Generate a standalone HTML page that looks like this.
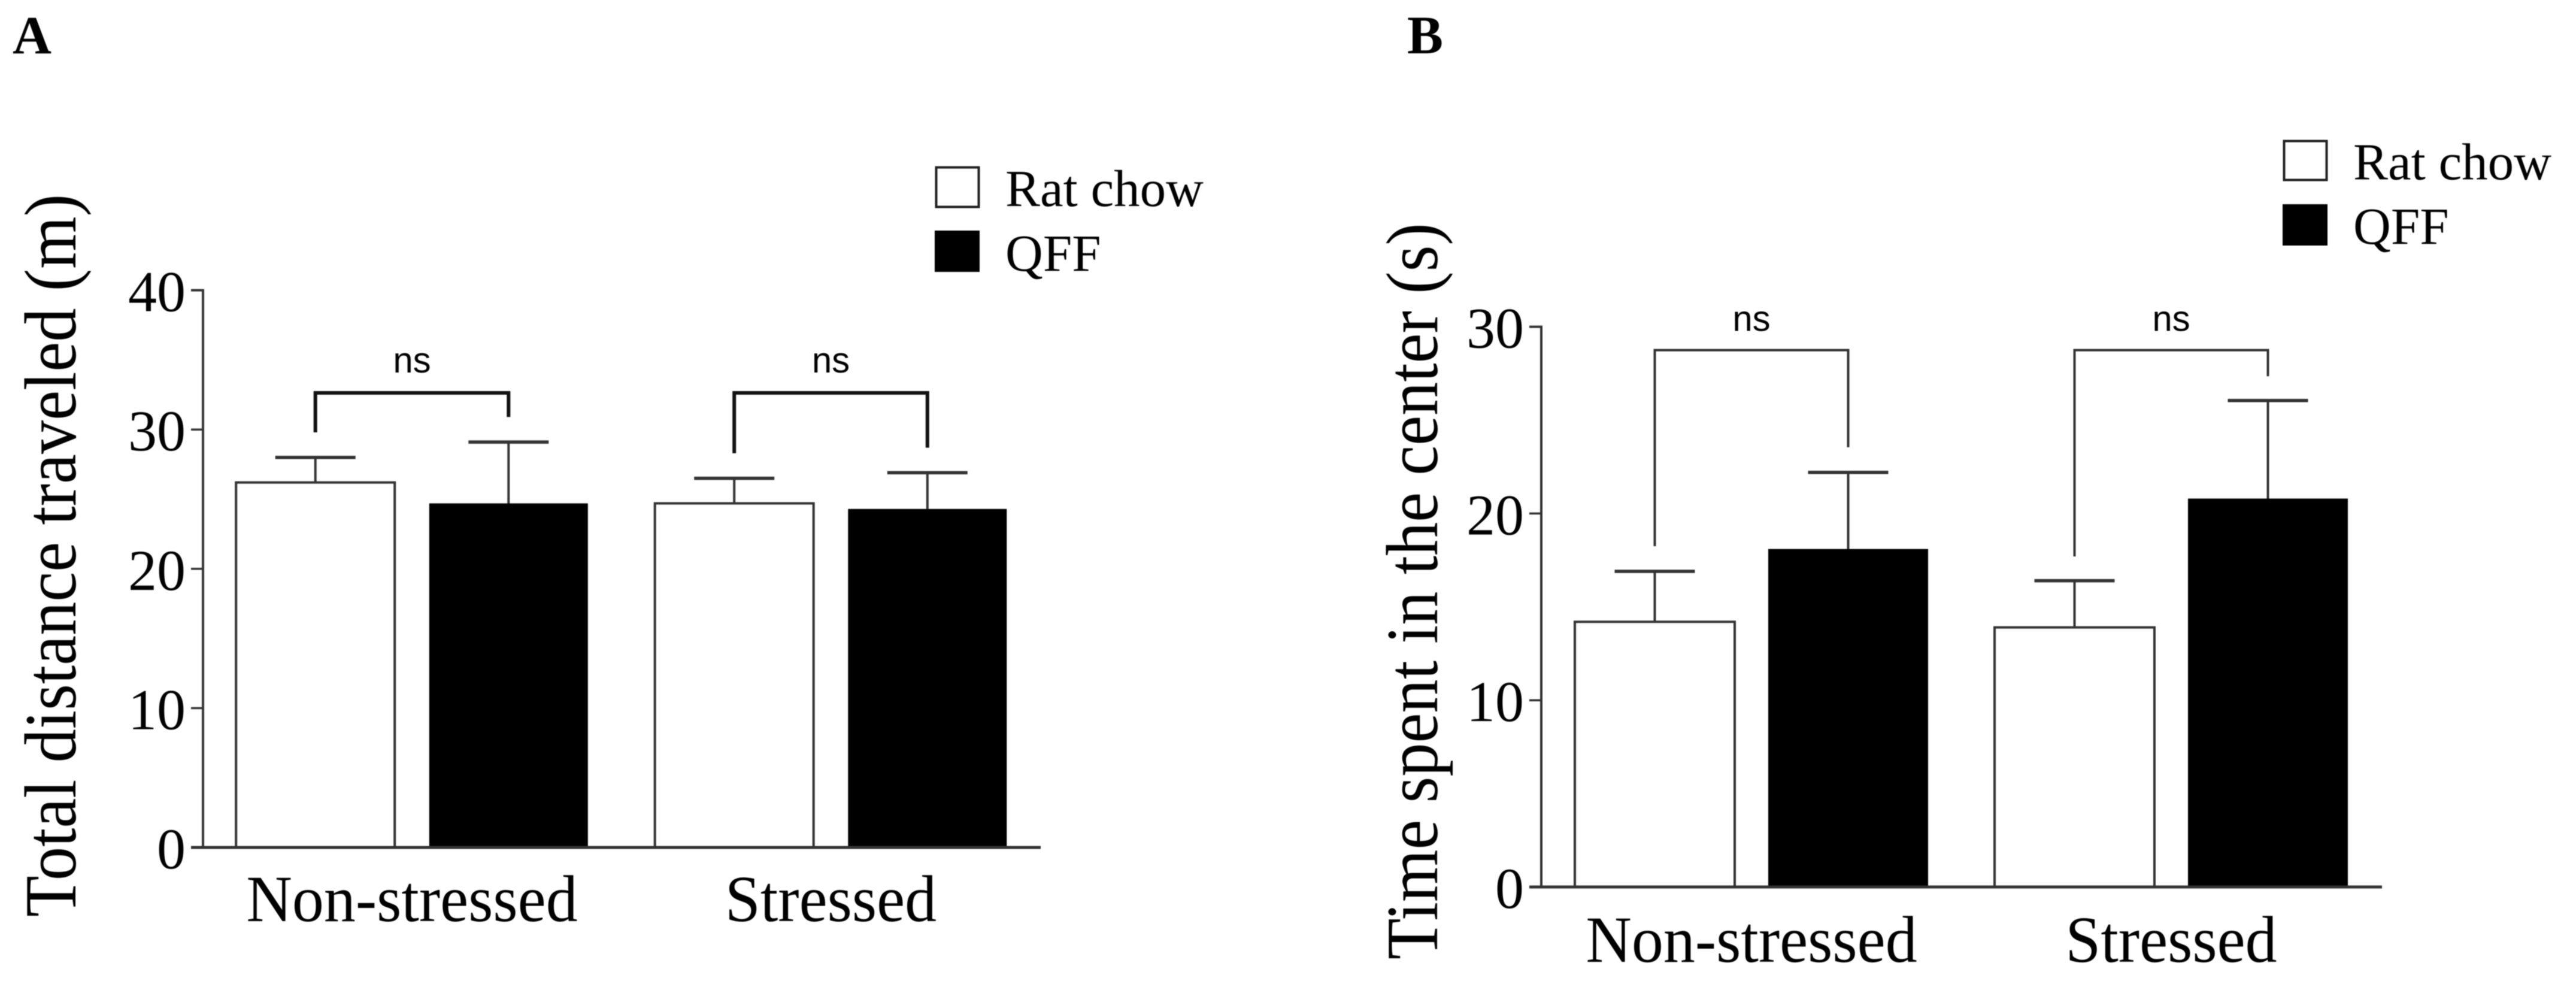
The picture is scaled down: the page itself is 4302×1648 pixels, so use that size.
<!DOCTYPE html>
<html>
<head>
<meta charset="utf-8">
<title>Locomotor activity bar charts</title>
<style>
html,body{margin:0;padding:0;background:#fff;}
svg{display:block;filter:blur(0.7px);}
text{font-family:"Liberation Serif",serif;fill:#000;}
.ns{font-family:"Liberation Sans",sans-serif;font-size:60px;text-anchor:middle;}
.panel{font-size:90px;font-weight:bold;}
.legend{font-size:87px;}
.ytitle{font-size:112.5px;}
</style>
</head>
<body>
<svg id="fig" xmlns="http://www.w3.org/2000/svg" width="4302" height="1648" viewBox="0 0 4302 1648">
  <rect x="0" y="0" width="4302" height="1648" fill="#fff"/>
  <text class="panel" x="21" y="89">A</text>
  <text class="panel" x="2350" y="89">B</text>

  <text class="ytitle" transform="translate(126 1531) rotate(-90) scale(1 1.09)">Total distance traveled (m)</text>
  <text class="ytitle" transform="translate(2400 1602) rotate(-90) scale(1 1.09)">Time spent in the center (s)</text>

  <g>
    <rect x="1563.5" y="279.5" width="71" height="66" fill="#fff" stroke="#222" stroke-width="4"/>
    <text class="legend" x="1679" y="344">Rat chow</text>
    <rect x="1561" y="385" width="75" height="69" fill="#000"/>
    <text class="legend" x="1679" y="452">QFF</text>
  </g>
  <g>
    <rect x="3814.5" y="235.5" width="71" height="65" fill="#fff" stroke="#222" stroke-width="4"/>
    <text class="legend" x="3930" y="299.5">Rat chow</text>
    <rect x="3812" y="341" width="75" height="69" fill="#000"/>
    <text class="legend" x="3930" y="407">QFF</text>
  </g>
  <g id="chart-a"></g>
  <g id="chart-b"></g>
</svg>
<script>
// Shared categories
const categories = ["Non-stressed", "Stressed"];
const seriesNames = ["rat-chow", "qff"];

// Panel A: total distance traveled (m)
const tickLabelsA = [0, 10, 20, 30, 40];
const ratChowMeanA = [26.2, 24.7];
const qffMeanA = [24.7, 24.3];
const ratChowUpperA = [28.0, 26.5];
const qffUpperA = [29.1, 26.9];
const bracketTopA = [32.63, 32.63];
const bracketLeftEndA = [29.8, 28.3];
const bracketRightEndA = [30.9, 28.7];

// Panel B: time spent in the center (s)
const tickLabelsB = [0, 10, 20, 30];
const ratChowMeanB = [14.2, 13.9];
const qffMeanB = [18.1, 20.8];
const ratChowUpperB = [16.9, 16.4];
const qffUpperB = [22.2, 26.05];
const bracketTopB = [28.75, 28.75];
const bracketLeftEndB = [18.25, 17.7];
const bracketRightEndB = [23.55, 27.35];

const NS = "http://www.w3.org/2000/svg";

function make(parent, tag, attrs, name) {
  const el = document.createElementNS(NS, tag);
  for (const k in attrs) el.setAttribute(k, attrs[k]);
  
  
  parent.appendChild(el);
  return el;
}

function drawPanel(panel) {
  const g = document.getElementById(panel.id);
  const y = v => panel.y0 - v * panel.unit;
  const groupX = i => panel.groupStart + i * panel.groupStep;
  const barX = (i, s) => groupX(i) + (s === 0 ? -panel.offset : panel.offset);
  const yMax = panel.ticks[panel.ticks.length - 1];

  panel.means.forEach((series, s) => {
    series.forEach((value, i) => {
      const cx = barX(i, s);
      make(g, 'line', {x1: cx, x2: cx, y1: y(value), y2: y(panel.upper[s][i]), stroke: '#333', 'stroke-width': 4}, `error-bar-${seriesNames[s]}-${i}`);
      make(g, 'line', {x1: cx - 67, x2: cx + 67, y1: y(panel.upper[s][i]), y2: y(panel.upper[s][i]), stroke: '#333', 'stroke-width': 5.5}, `error-cap-${seriesNames[s]}-${i}`);
      if (s === 0) {
        make(g, 'rect', {x: cx - panel.barW / 2, y: y(value), width: panel.barW, height: panel.y0 - y(value), fill: '#fff', stroke: '#333', 'stroke-width': 4}, `bar-${seriesNames[s]}-${i}`);
      } else {
        make(g, 'rect', {x: cx - panel.barW / 2, y: y(value), width: panel.barW, height: panel.y0 - y(value), fill: '#000'}, `bar-${seriesNames[s]}-${i}`);
      }
    });
  });

  make(g, 'path', {d: `M${panel.axisX - 20} ${y(yMax)}H${panel.axisX}V${panel.y0}`, fill: 'none', stroke: '#333', 'stroke-width': 4}, 'y-axis-line');
  make(g, 'line', {x1: panel.axisX - 20, x2: panel.axisEnd, y1: panel.y0, y2: panel.y0, stroke: '#333', 'stroke-width': 5}, 'x-axis-line');

  panel.ticks.forEach(t => {
    if (t !== 0 && t !== yMax) {
      make(g, 'line', {x1: panel.axisX - 20, x2: panel.axisX, y1: y(t), y2: y(t), stroke: '#333', 'stroke-width': 3.5}, `y-tick-${t}`);
    }
    const label = make(g, 'text', {x: panel.axisX - 29, y: y(t) + 35, 'text-anchor': 'end', 'font-size': 96}, `y-tick-label-${t}`);
    label.textContent = t;
  });

  categories.forEach((c, i) => {
    const label = make(g, 'text', {transform: `translate(${groupX(i)} ${panel.catY}) scale(1 1.04)`, 'text-anchor': 'middle', 'font-size': 106}, `x-category-label-${i}`);
    label.textContent = c;
  });

  panel.bracketTop.forEach((top, i) => {
    const lx = barX(i, 0), rx = barX(i, 1);
    make(g, 'path', {
      d: `M${lx} ${y(panel.bracketLeft[i])}V${y(top)}H${rx}V${y(panel.bracketRight[i])}`,
      fill: 'none', stroke: panel.bracketColor, 'stroke-width': panel.bracketW
    }, `significance-bracket-${i}`);
    const ns = make(g, 'text', {x: groupX(i), y: y(top) - panel.nsGap, class: 'ns'}, `significance-label-${i}`);
    ns.textContent = 'ns';
  });
}

drawPanel({
  id: 'chart-a', y0: 1415, unit: 23.26, axisX: 339, axisEnd: 1738,
  groupStart: 688, groupStep: 699.5, offset: 161.3, barW: 265, catY: 1538,
  ticks: tickLabelsA, means: [ratChowMeanA, qffMeanA], upper: [ratChowUpperA, qffUpperA],
  bracketTop: bracketTopA, bracketLeft: bracketLeftEndA, bracketRight: bracketRightEndA,
  bracketW: 6, bracketColor: '#111', nsGap: 34
});
drawPanel({
  id: 'chart-b', y0: 1481, unit: 31.18, axisX: 2574, axisEnd: 3978,
  groupStart: 2925, groupStep: 701, offset: 161.5, barW: 267, catY: 1606,
  ticks: tickLabelsB, means: [ratChowMeanB, qffMeanB], upper: [ratChowUpperB, qffUpperB],
  bracketTop: bracketTopB, bracketLeft: bracketLeftEndB, bracketRight: bracketRightEndB,
  bracketW: 4, bracketColor: '#333', nsGap: 32
});
</script>
</body>
</html>
